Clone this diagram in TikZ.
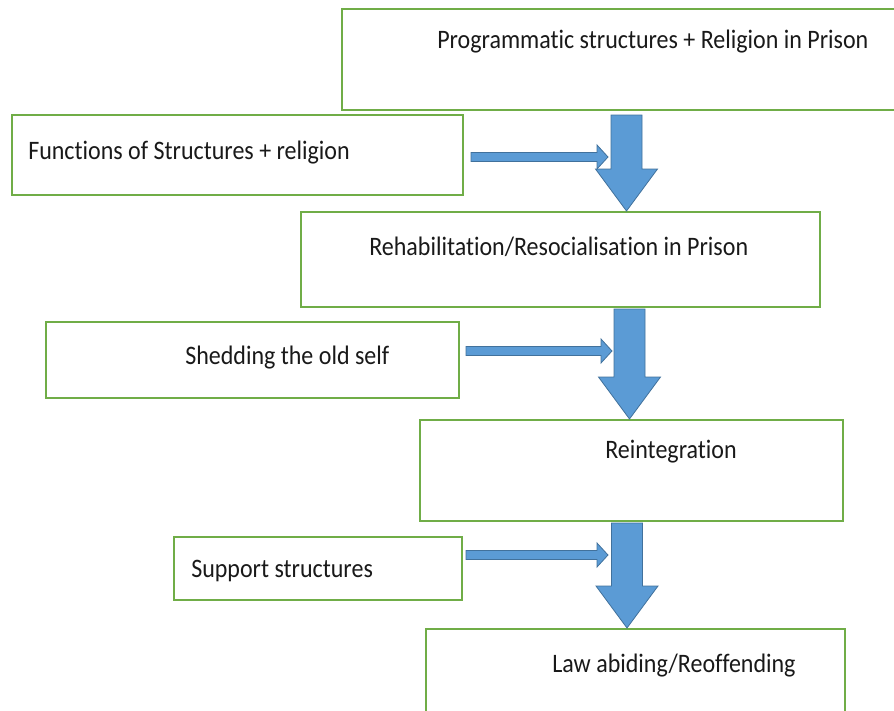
\documentclass[tikz,border=0pt]{standalone}
\usepackage{fontspec}
\setmainfont[FakeStretch=0.9, Ligatures=NoCommon]{Carlito}
\usepackage{xcolor}
\usepackage{tikz}
\usetikzlibrary{calc, positioning}

\definecolor{boxgreen}{RGB}{112,173,71}
\definecolor{arrowblue}{RGB}{91,155,213}
\definecolor{arrowedge}{RGB}{65,113,156}

\tikzset{
  box/.style={draw=boxgreen, line width=1.5pt, rectangle, inner sep=0pt},
  boxtext/.style={anchor=base west, inner sep=0pt, text=black!90, font=\fontsize{20}{24}\selectfont},
  flow/.style={fill=arrowblue, draw=arrowedge, line width=0.6pt, line join=miter}
}

% big down arrow from #1 to tip #2
\newcommand{\flowarrow}[2]{
  \draw[flow] ($(#1)+(-15.5,0)$) -- ($(#1)+(15.5,0)$) -- ($(#2)+(15.5,-42)$)
    -- ($(#2)+(31,-42)$) -- (#2) -- ($(#2)+(-31,-42)$) -- ($(#2)+(-15.5,-42)$) -- cycle;
}
% small side arrow from #1 to tip #2
\newcommand{\sidearrow}[2]{
  \draw[flow] ($(#1)+(0,-4.5)$) -- ($(#2)+(-11,-4.5)$) -- ($(#2)+(-11,-12)$)
    -- (#2) -- ($(#2)+(-11,12)$) -- ($(#2)+(-11,4.5)$) -- ($(#1)+(0,4.5)$) -- cycle;
}

\begin{document}
\begin{tikzpicture}[x=0.75pt, y=-0.75pt]
\useasboundingbox (0,0) rectangle (894,711);

% boxes
\node[box, minimum width=463.5pt, minimum height=75.75pt] (prog) at (651,59.5) {};
\node[box, minimum width=338.25pt, minimum height=60pt] (func) at (237.5,155) {};
\node[box, minimum width=389.25pt, minimum height=71.25pt] (rehab) at (560.5,259.5) {};
\node[box, minimum width=309.75pt, minimum height=57pt] (shed) at (252.5,360) {};
\node[box, minimum width=317.25pt, minimum height=75.75pt] (reint) at (631.5,470.5) {};
\node[box, minimum width=216pt, minimum height=47.25pt] (supp) at (318,568.5) {};
\node[box, minimum width=314.25pt, minimum height=98.25pt] (law) at (635.5,694.5) {};

% texts
\node[boxtext] (prog-txt) at (437,48) {Programmatic structures + Religion in Prison};
\node[boxtext] (func-txt) at (28,159) {Functions of Structures + religion};
\node[boxtext] (rehab-txt) at (369,255) {Rehabilitation/Resocialisation in Prison};
\node[boxtext] (shed-txt) at (185,364) {Shedding the old self};
\node[boxtext] (reint-txt) at (605,458) {Reintegration};
\node[boxtext] (supp-txt) at (191,577) {Support structures};
\node[boxtext] (law-txt) at (552,672) {Law abiding/Reoffending};

% arrow ends
\coordinate (s1) at (626.5,115);
\coordinate (t1) at (s1 |- rehab.north);
\coordinate (s2) at (629.5,309);
\coordinate (t2) at (s2 |- reint.north);
\coordinate (s3) at (627,523);
\coordinate (t3) at (s3 |- law.north);

\coordinate (f1) at (471,157);
\coordinate (g1) at (608,157);
\coordinate (f2) at (466,351);
\coordinate (g2) at (612,351);
\coordinate (f3) at (466,555);
\coordinate (g3) at (608,555);

\flowarrow{s1}{t1}
\flowarrow{s2}{t2}
\flowarrow{s3}{t3}

\sidearrow{f1}{g1}
\sidearrow{f2}{g2}
\sidearrow{f3}{g3}
\end{tikzpicture}
\end{document}
